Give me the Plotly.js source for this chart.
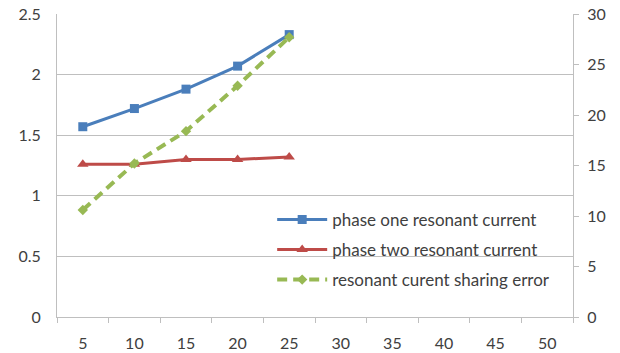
<!DOCTYPE html>
<html>
<head>
<meta charset="utf-8">
<script src="https://cdn.plot.ly/plotly-3.0.1.min.js"></script>
<style>html,body{margin:0;padding:0;background:#fff;}#chart{width:620px;height:353px;}</style>
</head>
<body>
<div id="chart"></div>
<script>
// Categories along the x axis
const categories = ['5', '10', '15', '20', '25', '30', '35', '40', '45', '50'];
// Resonant currents of each phase (left axis)
const phaseOne = [1.57, 1.72, 1.88, 2.07, 2.33];
const phaseTwo = [1.26, 1.26, 1.30, 1.30, 1.32];
// Current sharing error (right axis)
const sharingError = [10.6, 15.2, 18.4, 22.9, 27.7];
const seriesNames = ['phase one resonant current', 'phase two resonant current', 'resonant curent sharing error'];

const font = 'Lato, "Open Sans", sans-serif';
const textColor = '#404040';

const traces = [
  {
    x: categories.slice(0, phaseOne.length), y: phaseOne, name: seriesNames[0],
    type: 'scatter', mode: 'lines+markers', legendgroup: 'a',
    line: {color: '#4A7EBB', width: 3},
    marker: {symbol: 'square', size: 9, color: '#4A7EBB'}
  },
  {
    x: categories.slice(0, phaseTwo.length), y: phaseTwo, name: seriesNames[1],
    type: 'scatter', mode: 'lines+markers', legendgroup: 'b',
    line: {color: '#BE4B48', width: 3},
    marker: {symbol: 'triangle-up', size: 10, color: '#BE4B48'}
  },
  {
    x: categories.slice(0, sharingError.length), y: sharingError, name: seriesNames[2],
    type: 'scatter', mode: 'lines+markers', legendgroup: 'c', yaxis: 'y2',
    line: {color: '#98B954', width: 4, dash: '10px,6px'},
    marker: {symbol: 'diamond', size: 8, color: '#98B954'}
  },
  // invisible trace so the category axis spans all labels
  {
    x: categories, y: categories.map(() => null), type: 'scatter', mode: 'markers',
    showlegend: false, hoverinfo: 'skip'
  }
];

const layout = {
  width: 620, height: 353,
  margin: {l: 57, r: 47, t: 14, b: 36},
  paper_bgcolor: '#fff', plot_bgcolor: '#fff',
  font: {family: font, size: 16, color: textColor},
  showlegend: true,
  legend: {
    x: 0.417, y: 0.38, xanchor: 'left', yanchor: 'top',
    bgcolor: 'rgba(0,0,0,0)', tracegroupgap: 5,
    font: {family: font, size: 17, color: textColor},
    itemwidth: 50
  },
  xaxis: {
    type: 'category', categoryorder: 'array', categoryarray: categories,
    range: [-0.5, 9.5],
    showgrid: false, zeroline: false,
    showline: true, linecolor: '#BFBFBF', linewidth: 1,
    ticks: 'outside', tickson: 'boundaries', ticklen: 5, tickcolor: '#BFBFBF',
    ticklabelstandoff: 12,
    tickfont: {family: font, size: 16, color: textColor}
  },
  yaxis: {
    range: [0, 2.5], dtick: 0.5, tick0: 0,
    showgrid: true, gridcolor: '#BFBFBF', gridwidth: 1, zeroline: false,
    showline: true, linecolor: '#BFBFBF', ticks: '',
    ticklabelstandoff: 12,
    tickfont: {family: font, size: 16, color: textColor}
  },
  yaxis2: {
    overlaying: 'y', side: 'right', range: [0, 30], dtick: 5,
    showgrid: false, zeroline: false,
    showline: true, linecolor: '#BFBFBF',
    ticks: 'outside', ticklen: 5, tickcolor: '#BFBFBF',
    ticklabelstandoff: 5,
    tickfont: {family: font, size: 16, color: textColor}
  }
};

Plotly.newPlot('chart', traces, layout, {displayModeBar: false, staticPlot: true});
</script>
</body>
</html>
